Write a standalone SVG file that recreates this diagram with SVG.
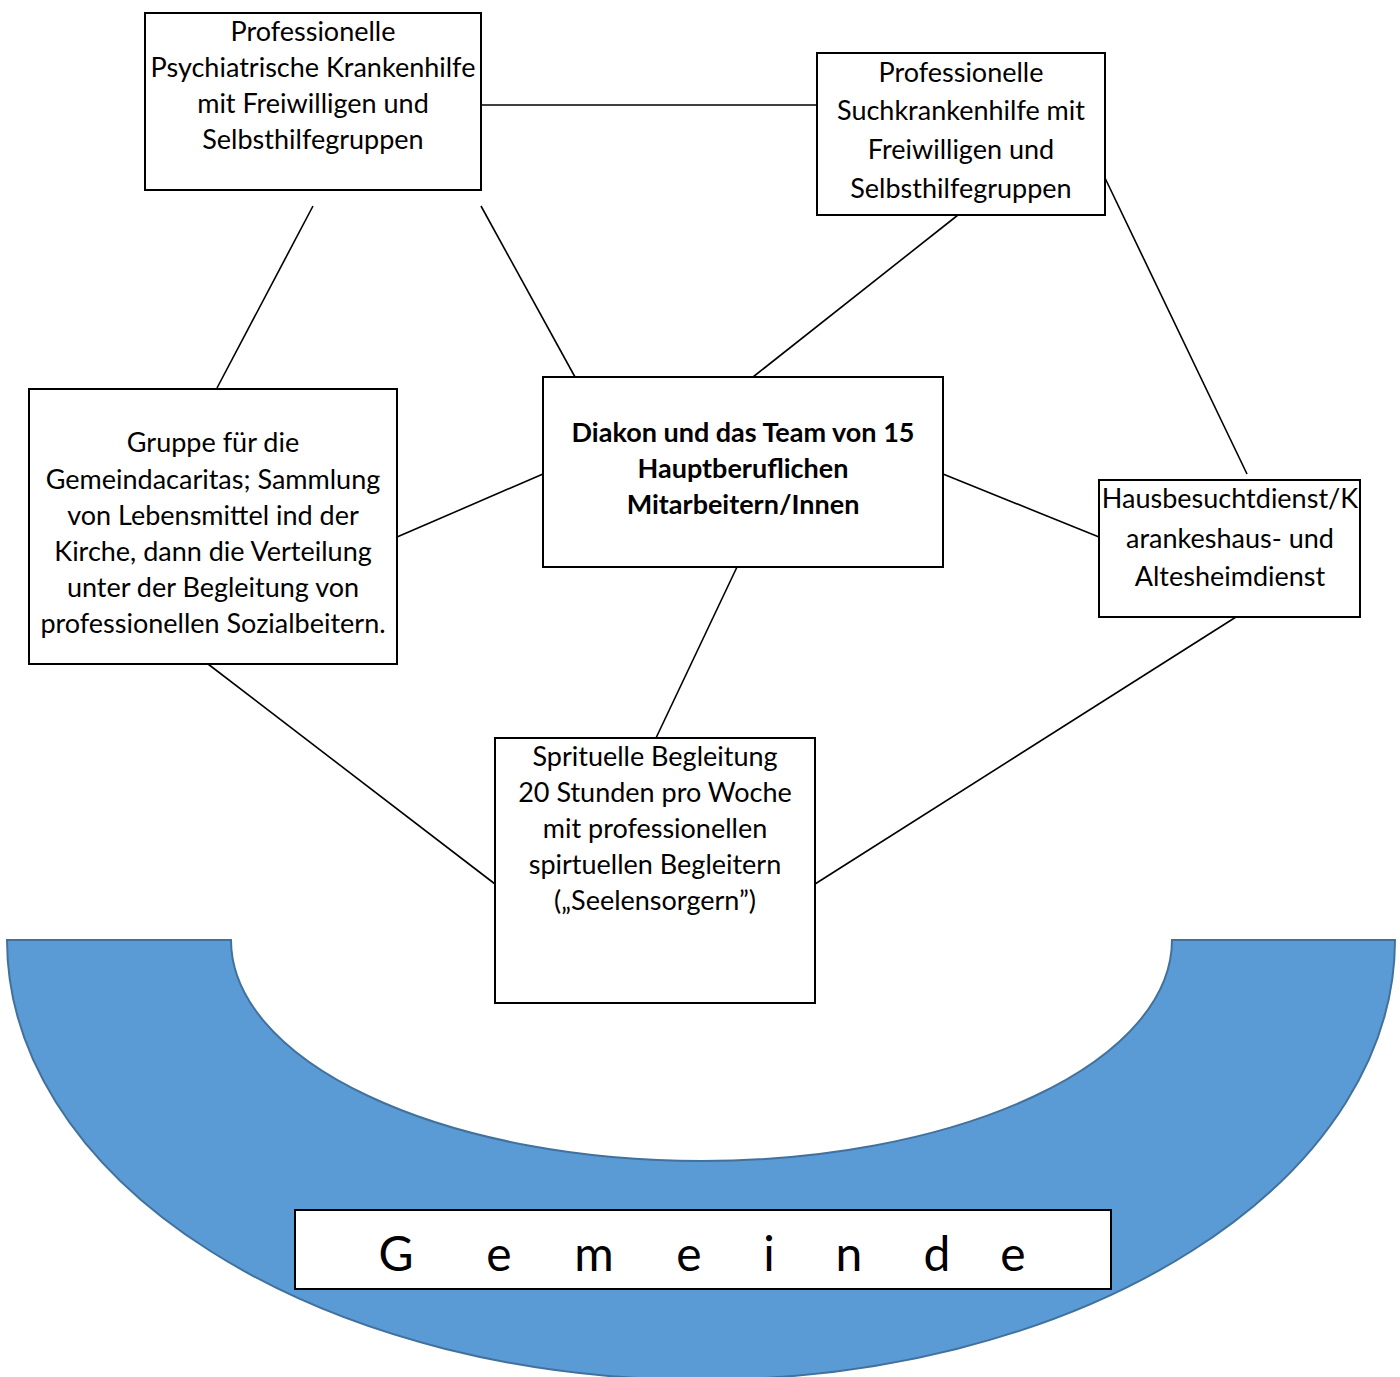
<svg xmlns="http://www.w3.org/2000/svg" width="1400" height="1377" viewBox="0 0 1400 1377">
<style>
.box{fill:#fff;stroke:#000;stroke-width:2}
.t{font-family:Lato,"Open Sans","Liberation Sans",sans-serif;font-size:27px;fill:#000;text-anchor:middle}
.b{font-weight:bold}
.c{stroke:#000;stroke-width:1.6;fill:none}
.g{font-family:Lato,"Open Sans","Liberation Sans",sans-serif;font-size:48px;fill:#000;text-anchor:middle}
</style>
<rect width="1400" height="1377" fill="#fff"/>
<g id="gemeinde">
<path d="M 7 940 A 694 440 0 0 0 1395 940 L 1172 940 A 470.5 221 0 0 1 231 940 Z" fill="#5B9BD5" stroke="#41719C" stroke-width="2"/>
<rect class="box" x="295" y="1210" width="816" height="79"/>
<text class="g" x="396 499 594 689 769 849 937 1013" y="1271">Gemeinde</text>
</g>
<g id="connectors">
<line class="c" x1="481" y1="105" x2="817" y2="105"/>
<line class="c" x1="313" y1="206" x2="217" y2="388"/>
<line class="c" x1="481" y1="206" x2="575" y2="377"/>
<line class="c" x1="958" y1="215" x2="753" y2="377"/>
<line class="c" x1="1105" y1="178" x2="1247" y2="474"/>
<line class="c" x1="397" y1="537" x2="543" y2="474"/>
<line class="c" x1="943" y1="474" x2="1099" y2="537"/>
<line class="c" x1="737" y1="567" x2="656" y2="738"/>
<line class="c" x1="208" y1="664" x2="495" y2="884"/>
<line class="c" x1="1236" y1="617" x2="815" y2="884"/>
</g>
<g id="psych">
<rect class="box" x="145" y="13" width="336" height="177"/>
<text class="t"><tspan x="313" y="41">Professionelle</tspan><tspan x="313" y="77">Psychiatrische Krankenhilfe</tspan><tspan x="313" y="113">mit Freiwilligen und</tspan><tspan x="313" y="149">Selbsthilfegruppen</tspan></text>
</g>
<g id="sucht">
<rect class="box" x="817" y="53" width="288" height="162"/>
<text class="t"><tspan x="961" y="82">Professionelle</tspan><tspan x="961" y="120">Suchkrankenhilfe mit</tspan><tspan x="961" y="159">Freiwilligen und</tspan><tspan x="961" y="198">Selbsthilfegruppen</tspan></text>
</g>
<g id="diakon">
<rect class="box" x="543" y="377" width="400" height="190"/>
<text class="t b"><tspan x="743" y="442">Diakon und das Team von 15</tspan><tspan x="743" y="478">Hauptberuflichen</tspan><tspan x="743" y="514">Mitarbeitern/Innen</tspan></text>
</g>
<g id="caritas">
<rect class="box" x="29" y="389" width="368" height="275"/>
<text class="t"><tspan x="213" y="452">Gruppe für die</tspan><tspan x="213" y="489">Gemeindacaritas; Sammlung</tspan><tspan x="213" y="525">von Lebensmittel ind der</tspan><tspan x="213" y="561">Kirche, dann die Verteilung</tspan><tspan x="213" y="597">unter der Begleitung von</tspan><tspan x="213" y="633">professionellen Sozialbeitern.</tspan></text>
</g>
<g id="hausbesuch">
<rect class="box" x="1099" y="480" width="261" height="137"/>
<text class="t"><tspan x="1230" y="508">Hausbesuchtdienst/K</tspan><tspan x="1230" y="548">arankeshaus- und</tspan><tspan x="1230" y="586">Altesheimdienst</tspan></text>
</g>
<g id="spirituell">
<rect class="box" x="495" y="738" width="320" height="265"/>
<text class="t"><tspan x="655" y="766">Sprituelle Begleitung</tspan><tspan x="655" y="802">20 Stunden pro Woche</tspan><tspan x="655" y="838">mit professionellen</tspan><tspan x="655" y="874">spirtuellen Begleitern</tspan><tspan x="655" y="910">(„Seelensorgern”)</tspan></text>
</g>
</svg>
